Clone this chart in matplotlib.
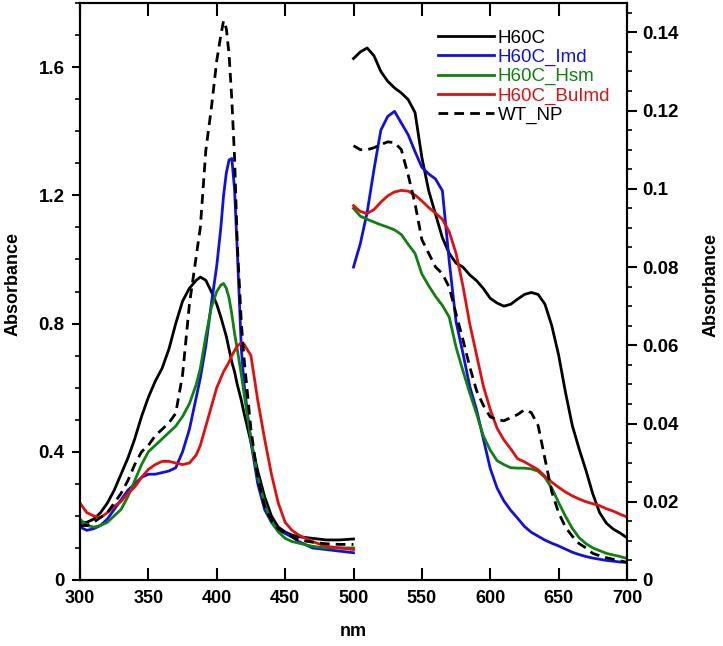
import matplotlib
matplotlib.use("Agg")
import matplotlib.pyplot as plt
from matplotlib.ticker import MultipleLocator, FuncFormatter
from matplotlib import font_manager

# ---------------- Data: Soret region (left axis) ----------------
soret_nm = [300, 305, 310, 315, 320, 325, 330, 335, 340, 345, 350, 355, 360, 365, 370,
            375, 380, 385, 388, 392, 396, 400, 403, 405, 407, 409, 411, 413, 415, 418,
            420, 425, 430, 435, 440, 445, 450, 455, 460, 470, 480, 490, 500]
h60c_left = [0.18, 0.18, 0.19, 0.21, 0.24, 0.28, 0.33, 0.38, 0.44, 0.51, 0.57, 0.62, 0.66, 0.72, 0.80,
             0.87, 0.91, 0.935, 0.945, 0.935, 0.90, 0.86, 0.82, 0.79, 0.76, 0.72, 0.68, 0.65, 0.61, 0.56,
             0.52, 0.43, 0.34, 0.26, 0.20, 0.165, 0.15, 0.14, 0.135, 0.13, 0.125, 0.125, 0.128]
imd_left = [0.165, 0.155, 0.16, 0.17, 0.19, 0.22, 0.25, 0.28, 0.30, 0.32, 0.33, 0.33, 0.335, 0.34, 0.35,
            0.40, 0.47, 0.57, 0.63, 0.73, 0.86, 0.98, 1.10, 1.20, 1.27, 1.31, 1.315, 1.22, 1.03, 0.72,
            0.61, 0.43, 0.30, 0.22, 0.18, 0.16, 0.145, 0.135, 0.12, 0.10, 0.095, 0.09, 0.085]
hsm_left = [0.19, 0.17, 0.165, 0.17, 0.18, 0.20, 0.22, 0.26, 0.31, 0.36, 0.40, 0.42, 0.44, 0.46, 0.48,
            0.51, 0.55, 0.61, 0.66, 0.76, 0.85, 0.90, 0.92, 0.925, 0.91, 0.88, 0.83, 0.77, 0.72, 0.64,
            0.58, 0.44, 0.32, 0.24, 0.18, 0.15, 0.13, 0.12, 0.115, 0.105, 0.10, 0.10, 0.10]
buimd_left = [0.24, 0.21, 0.20, 0.195, 0.21, 0.23, 0.245, 0.27, 0.29, 0.32, 0.345, 0.36, 0.37, 0.37, 0.365,
              0.36, 0.365, 0.39, 0.42, 0.48, 0.54, 0.60, 0.63, 0.65, 0.665, 0.68, 0.70, 0.715, 0.73, 0.74,
              0.735, 0.70, 0.56, 0.44, 0.33, 0.24, 0.18, 0.155, 0.14, 0.12, 0.105, 0.10, 0.095]
wt_left = [0.17, 0.17, 0.18, 0.195, 0.21, 0.24, 0.27, 0.31, 0.36, 0.40, 0.42, 0.45, 0.47, 0.49, 0.52,
           0.64, 0.86, 1.01, 1.10, 1.34, 1.47, 1.62, 1.70, 1.745, 1.72, 1.64, 1.50, 1.32, 1.05, 0.80,
           0.69, 0.47, 0.32, 0.23, 0.185, 0.16, 0.145, 0.135, 0.125, 0.118, 0.113, 0.111, 0.111]

# ---------------- Data: Q-band region (right axis) ----------------
q_nm = [500, 505, 510, 515, 520, 525, 530, 535, 540, 545, 550, 555, 560, 565, 570,
        575, 580, 585, 590, 595, 600, 605, 610, 615, 620, 625, 630, 635, 640, 645,
        650, 655, 660, 665, 670, 675, 680, 685, 690, 695, 700]
h60c_right = [0.1333, 0.135, 0.136, 0.134, 0.130, 0.1275, 0.1258, 0.1245, 0.1228, 0.1195, 0.108, 0.0995, 0.0935, 0.0875, 0.0835,
              0.081, 0.080, 0.078, 0.0765, 0.0745, 0.072, 0.0708, 0.070, 0.0705, 0.0718, 0.073, 0.0735, 0.073, 0.0705, 0.065,
              0.0575, 0.048, 0.0395, 0.0335, 0.028, 0.022, 0.0172, 0.0145, 0.013, 0.012, 0.0108]
imd_right = [0.080, 0.086, 0.094, 0.105, 0.115, 0.1185, 0.1198, 0.1168, 0.1138, 0.1095, 0.1055, 0.1038, 0.1025, 0.0995, 0.0815,
             0.066, 0.058, 0.0495, 0.0435, 0.036, 0.0285, 0.0235, 0.0202, 0.0178, 0.0158, 0.0137, 0.0122, 0.0112, 0.0102, 0.0094,
             0.0087, 0.0079, 0.0071, 0.0065, 0.006, 0.0056, 0.0053, 0.005, 0.0048, 0.0046, 0.0045]
hsm_right = [0.095, 0.093, 0.0922, 0.0915, 0.0908, 0.0902, 0.0895, 0.0883, 0.0858, 0.0835, 0.0782, 0.0752, 0.0725, 0.0702, 0.0672,
             0.0595, 0.0535, 0.0478, 0.0425, 0.0368, 0.0332, 0.0305, 0.0295, 0.0287, 0.0286, 0.0286, 0.0284, 0.0278, 0.0262, 0.0235,
             0.0198, 0.0163, 0.0132, 0.0108, 0.0093, 0.0082, 0.0075, 0.0068, 0.0064, 0.006, 0.0055]
buimd_right = [0.0957, 0.0942, 0.0937, 0.0947, 0.0966, 0.0982, 0.0992, 0.0996, 0.0994, 0.0984, 0.0969, 0.0952, 0.0938, 0.0922, 0.089,
               0.0835, 0.0752, 0.0655, 0.0575, 0.0495, 0.0436, 0.0388, 0.0358, 0.0335, 0.031, 0.0302, 0.0292, 0.0282, 0.0265, 0.025,
               0.0237, 0.0225, 0.0215, 0.0207, 0.02, 0.0195, 0.019, 0.0182, 0.0176, 0.0168, 0.0161]
wt_right = [0.111, 0.110, 0.110, 0.1105, 0.1113, 0.112, 0.1118, 0.110, 0.1035, 0.0962, 0.087, 0.0835, 0.080, 0.0783, 0.0748,
            0.068, 0.0615, 0.0545, 0.0484, 0.0446, 0.0417, 0.041, 0.0407, 0.0415, 0.0423, 0.0435, 0.0428, 0.0395, 0.031, 0.0225,
            0.0172, 0.0135, 0.0112, 0.0093, 0.0082, 0.0068, 0.0062, 0.0057, 0.0053, 0.0049, 0.0045]

labels = ["H60C", "H60C_Imd", "H60C_Hsm", "H60C_BuImd", "WT_NP"]
colors = ["#000000", "#1010e0", "#108010", "#e01010", "#000000"]
styles = ["-", "-", "-", "-", (0, (3.5, 2.2))]
left_series = [h60c_left, imd_left, hsm_left, buimd_left, wt_left]
right_series = [h60c_right, imd_right, hsm_right, buimd_right, wt_right]

fig = plt.figure(figsize=(7.23, 6.46), dpi=100)
ax = fig.add_axes([80 / 723, 1 - 580 / 646, 547 / 723, 577 / 646])
ax2 = ax.twinx()

lw = 2.0
handles = []
for ys, c, s, lab in zip(left_series, colors, styles, labels):
    h, = ax.plot(soret_nm, ys, color=c, linestyle=s, lw=lw, label=lab)
    handles.append(h)
for ys, c, s in zip(right_series, colors, styles):
    ax2.plot(q_nm, ys, color=c, linestyle=s, lw=lw)

ax.set_xlim(300, 700)
ax.set_ylim(0, 1.8)
ax2.set_ylim(0, 0.1475)

fmt = FuncFormatter(lambda v, p: "%g" % round(v, 4))
ax.xaxis.set_major_locator(MultipleLocator(50))
ax.yaxis.set_major_locator(MultipleLocator(0.4))
ax.yaxis.set_minor_locator(MultipleLocator(0.1))
ax.yaxis.set_major_formatter(fmt)
ax2.yaxis.set_major_locator(MultipleLocator(0.02))
ax2.yaxis.set_minor_locator(MultipleLocator(0.005))
ax2.yaxis.set_major_formatter(fmt)

ax.tick_params(axis="x", which="major", direction="in", length=9, width=1.5, top=True, pad=7)
ax.tick_params(axis="y", which="major", direction="out", length=6, width=1.5, pad=5)
ax.tick_params(axis="y", which="minor", direction="out", length=3.5, width=1.2)
ax2.tick_params(axis="y", which="major", direction="out", length=7, width=1.5, pad=4)
ax2.tick_params(axis="y", which="minor", direction="out", length=3.5, width=1.2)
for lbl in ax.get_xticklabels():
    lbl.set_fontproperties(font_manager.FontProperties(family="Liberation Sans", weight="bold", size=13))
for a in (ax, ax2):
    for lbl in a.get_yticklabels():
        lbl.set_fontproperties(font_manager.FontProperties(family="Liberation Sans", weight="bold", size=13.5))
    for sp in a.spines.values():
        sp.set_linewidth(1.5)

labfont = dict(family="Liberation Sans", weight="bold", size=13)
ax.set_xlabel("nm", **labfont)
ax.set_ylabel("Absorbance", **labfont)
ax2.set_ylabel("Absorbance", **labfont)
ax.xaxis.set_label_coords(0.5, (580 - 632) / 577)
ax.xaxis.label.set_va("center")
ax.yaxis.set_label_coords((13 - 80) / 547, (580 - 284) / 577)
ax.yaxis.label.set_va("center")
ax2.yaxis.set_label_coords((711 - 80) / 547, (580 - 285) / 577)
ax2.yaxis.label.set_va("center")

leg = ax.legend(handles=handles, loc="upper right", bbox_to_anchor=(0.99, 0.973),
                frameon=False, handlelength=3.0, handletextpad=0.2, labelspacing=0.1,
                prop=dict(family="Liberation Sans", size=13.5), labelcolor="linecolor",
                borderaxespad=0.2)
leg.set_zorder(5)

fig.savefig("out.png", dpi=100)
